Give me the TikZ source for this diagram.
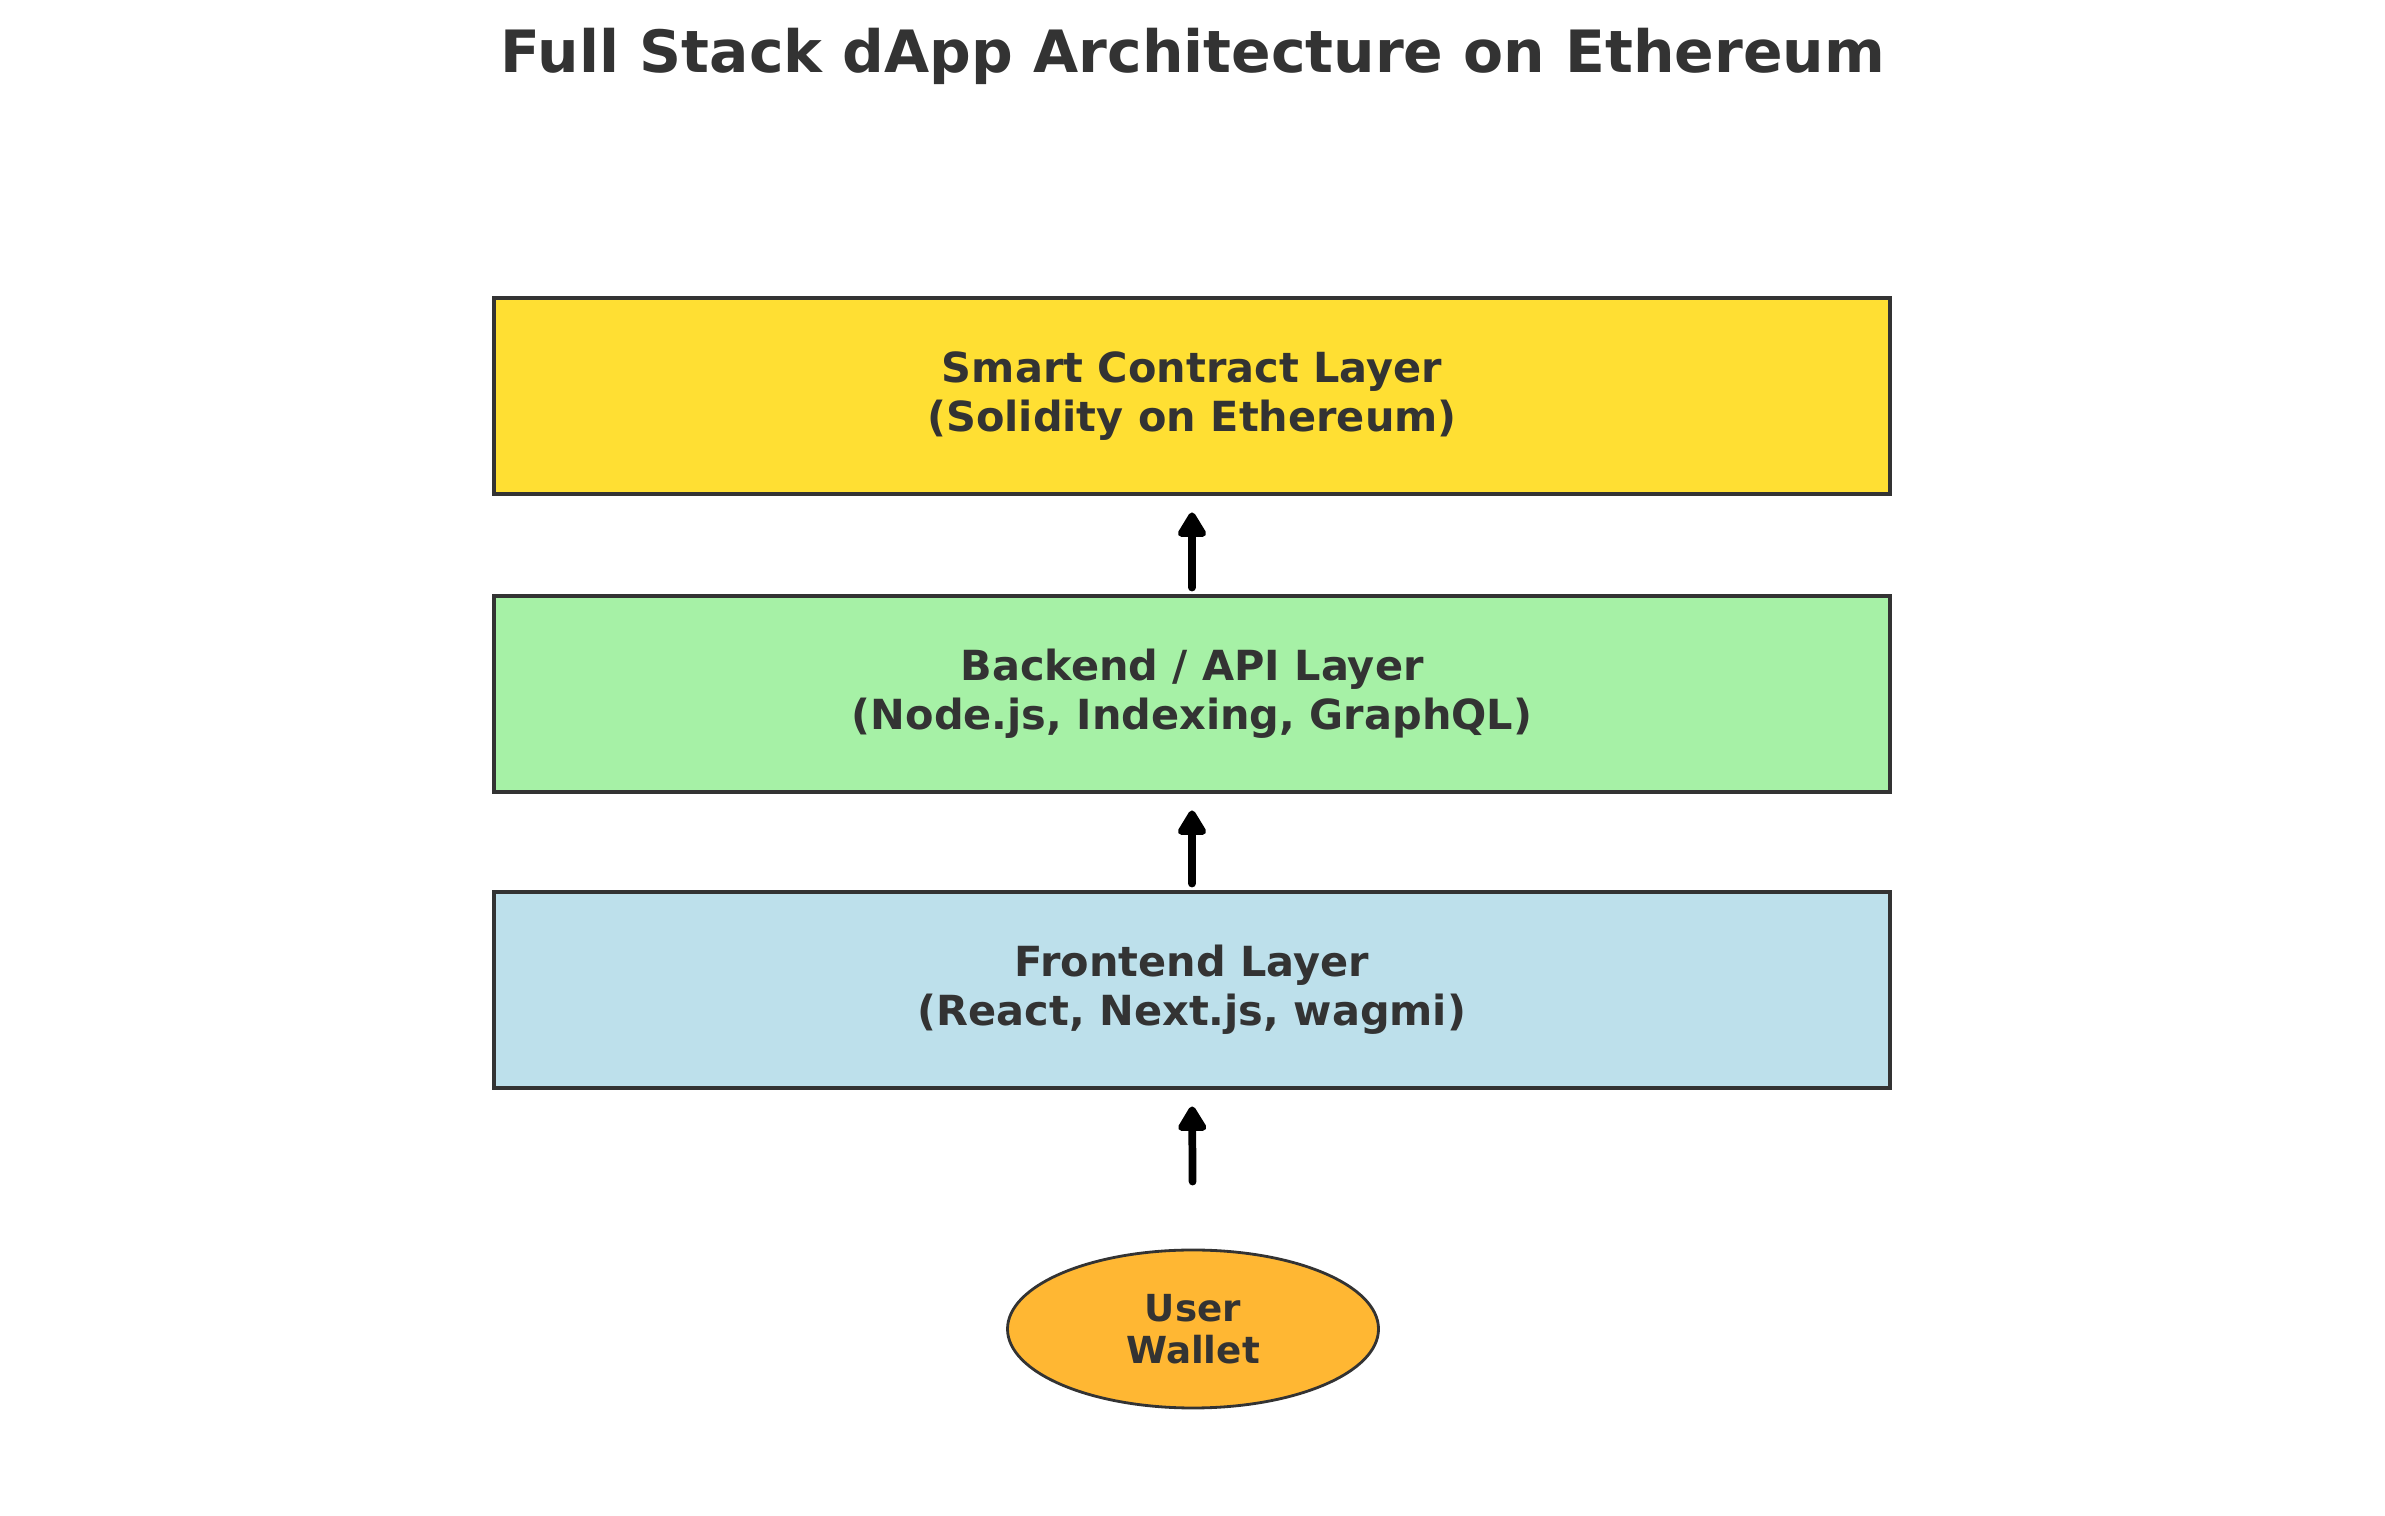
\documentclass[tikz,border=0pt]{standalone}
\usepackage{fontspec}
\setmainfont{DejaVu Sans}
\usetikzlibrary{arrows.meta,shapes.geometric}
\definecolor{txtgray}{HTML}{333333}
\definecolor{contractyellow}{RGB}{255,223,51}
\definecolor{backendgreen}{RGB}{166,241,166}
\definecolor{frontendblue}{RGB}{189,224,235}
\definecolor{walletorange}{RGB}{255,183,51}
\begin{document}
\begin{tikzpicture}[
  layer/.style={draw=txtgray, line width=1.4pt, rectangle, minimum width=13.96cm,
    minimum height=1.96cm, inner sep=0pt, align=center, text=txtgray,
    font=\fontsize{11.8}{13.9}\selectfont\bfseries},
  wallet/.style={draw=txtgray, line width=0.8pt, ellipse, fill=walletorange,
    minimum width=3.71cm, minimum height=1.58cm, inner sep=0pt, align=center,
    text=txtgray, font=\fontsize{10.6}{11.8}\selectfont\bfseries},
  uparrow/.style={line width=2.2pt, line cap=round, black,
    -{Triangle[round,length=8pt,width=9pt]}, shorten >=0.16cm}
]
\useasboundingbox (0,0) rectangle (23.85,15.16);
% title
\node[text=txtgray, font=\fontsize{16.6}{20}\selectfont\bfseries] (title) at (11.93,14.60) {Full Stack dApp Architecture on Ethereum};
% the three layers
\node[layer, fill=contractyellow] (contract) at (11.92,11.20) {Smart Contract Layer\\(Solidity on Ethereum)};
\node[layer, fill=backendgreen] (backend) at (11.92,8.22) {Backend / API Layer\\(Node.js, Indexing, GraphQL)};
\node[layer, fill=frontendblue] (frontend) at (11.92,5.26) {Frontend Layer\\(React, Next.js, wagmi)};
% user
\node[wallet] (user) at (11.93,1.87) {User\\Wallet};
% arrows
\draw[uparrow, shorten <=0.06cm] (backend.north) -- (contract.south);
\draw[uparrow, shorten <=0.06cm] (frontend.north) -- (backend.south);
\draw[uparrow, shorten <=0.67cm] (user.north) -- (frontend.south);
\end{tikzpicture}
\end{document}
